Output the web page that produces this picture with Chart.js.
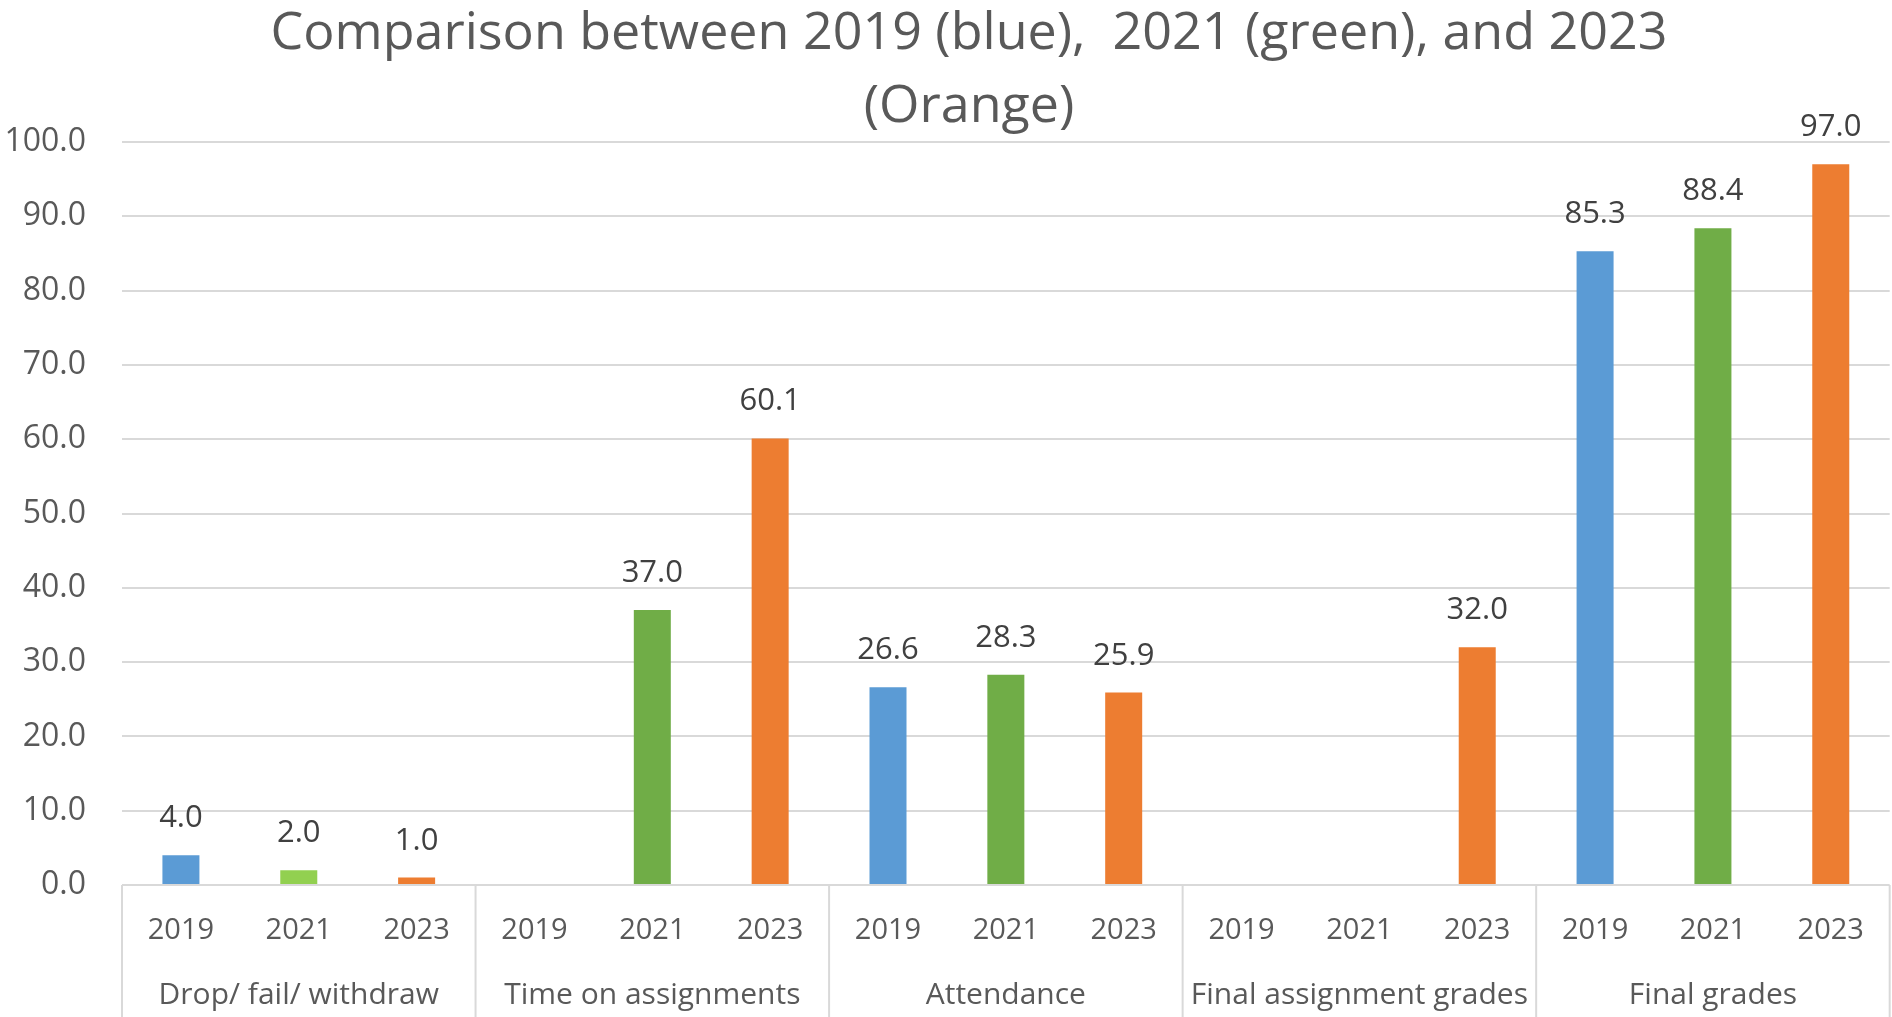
<!DOCTYPE html>
<html>
<head>
<meta charset="utf-8">
<script src="https://cdn.jsdelivr.net/npm/chart.js@4.4.1/dist/chart.umd.min.js"></script>
<style>
html,body{margin:0;padding:0;background:#fff;}
#wrap{width:1892px;height:1017px;position:relative;}
</style>
</head>
<body>
<div id="wrap"><canvas id="c"></canvas></div>
<script>
const groups = ["Drop/ fail/ withdraw", "Time on assignments", "Attendance", "Final assignment grades", "Final grades"];
const years = ["2019", "2021", "2023"];
const values2019 = [4.0, null, 26.6, null, 85.3];
const values2021 = [2.0, 37.0, 28.3, null, 88.4];
const values2023 = [1.0, 60.1, 25.9, 32.0, 97.0];
const yTicks = [0, 10, 20, 30, 40, 50, 60, 70, 80, 90, 100];

const colors2019 = ["#5B9BD5", "#5B9BD5", "#5B9BD5", "#5B9BD5", "#5B9BD5"];
const colors2021 = ["#92D050", "#70AD47", "#70AD47", "#70AD47", "#70AD47"];
const colors2023 = ["#ED7D31", "#ED7D31", "#ED7D31", "#ED7D31", "#ED7D31"];

const labels = [], data = [], bg = [];
groups.forEach((g, i) => {
  [values2019, values2021, values2023].forEach((arr, j) => {
    labels.push(years[j]);
    data.push(arr[i]);
    bg.push([colors2019, colors2021, colors2023][j][i]);
  });
});

const FONT = "'Open Sans', sans-serif";
const TXT = "#595959";

const titleShift = {
  id: 'titleShift',
  afterLayout(chart) {
    const t = chart.titleBlock;
    if (t) { t.left = 48; t.width = t.right - t.left; }
  }
};

const sepPlugin = {
  id: 'sep',
  afterDraw(chart) {
    const x = chart.scales.x, ctx = chart.ctx, ca = chart.chartArea;
    ctx.save();
    ctx.strokeStyle = "#D9D9D9";
    ctx.lineWidth = 2;
    for (let i = 0; i <= groups.length; i++) {
      let px = x.getPixelForValue(i * 3 - 0.5);
      if (i === groups.length) px = Math.min(px, chart.width - 1);
      ctx.beginPath();
      ctx.moveTo(px, ca.bottom);
      ctx.lineTo(px, chart.height);
      ctx.stroke();
    }
    ctx.restore();
  }
};

const labelPlugin = {
  id: 'vals',
  afterDatasetsDraw(chart) {
    const ctx = chart.ctx;
    const meta = chart.getDatasetMeta(0);
    ctx.save();
    ctx.font = "31px " + FONT;
    ctx.fillStyle = "#404040";
    ctx.textAlign = "center";
    ctx.textBaseline = "alphabetic";
    meta.data.forEach((bar, i) => {
      const v = data[i];
      if (v === null || v === undefined) return;
      ctx.fillText(v.toFixed(1), bar.x, bar.y - 28);
    });
    ctx.restore();
  }
};

new Chart(document.getElementById('c'), {
  type: 'bar',
  data: {
    labels: labels,
    datasets: [{
      data: data,
      backgroundColor: bg,
      barPercentage: 0.314,
      categoryPercentage: 1.0,
      xAxisID: 'x'
    }]
  },
  options: {
    responsive: true,
    maintainAspectRatio: false,
    animation: false,
    layout: { padding: { left: 0, right: 2, top: 0, bottom: 0 } },
    plugins: {
      legend: { display: false },
      tooltip: { enabled: false },
      title: {
        display: true,
        text: ["Comparison between 2019 (blue),  2021 (green), and 2023", "(Orange)"],
        color: TXT,
        font: { family: FONT, size: 52, weight: 'normal', lineHeight: 1.404 },
        padding: { top: -2, bottom: -2 }
      }
    },
    scales: {
      y: {
        min: 0, max: 100,
        afterBuildTicks(scale) { scale.ticks = yTicks.map(v => ({ value: v })); },
        afterFit(scale) { scale.width = 122; },
        border: { display: false },
        grid: { color: "#D9D9D9", lineWidth: 2, drawTicks: false },
        ticks: {
          color: TXT,
          font: { family: FONT, size: 32 },
          padding: 36,
          callback: v => Number(v).toFixed(1)
        }
      },
      x: {
        position: 'bottom',
        offset: true,
        border: { display: false },
        grid: { display: false, drawTicks: false },
        ticks: { color: TXT, font: { family: FONT, size: 29 }, padding: 28, maxRotation: 0, autoSkip: false },
        afterFit(scale) { scale.height = 92; }
      },
      x2: {
        type: 'category',
        labels: groups,
        position: 'bottom',
        offset: true,
        border: { display: false },
        grid: { display: false, drawTicks: false },
        ticks: { color: TXT, font: { family: FONT, size: 30 }, padding: 0, maxRotation: 0, autoSkip: false },
        afterFit(scale) { scale.height = 40; }
      }
    }
  },
  plugins: [titleShift, sepPlugin, labelPlugin]
});
</script>
</body>
</html>
